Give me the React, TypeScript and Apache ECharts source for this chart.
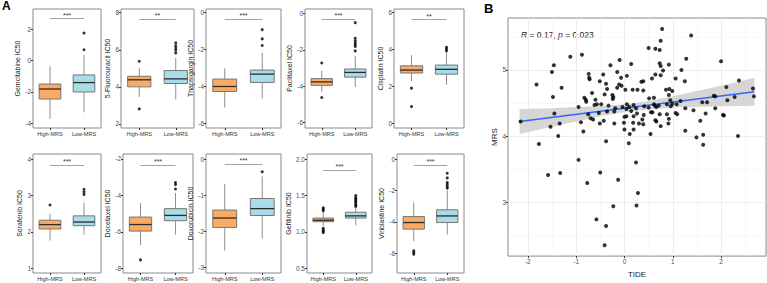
import React, { useEffect, useRef } from 'react';
import * as echarts from 'echarts';

// ---------------- DATA ----------------
const GROUPS = ['High-MRS', 'Low-MRS'];
const DRUGS = ['Gemcitabine', '5-Fluorouracil', 'Thapsigargin', 'Paclitaxel', 'Cisplatin',
  'Sorafenib', 'Docetaxel', 'Doxorubicin', 'Gefitinib', 'Vinblastine'];

// [lower whisker, Q1, median, Q3, upper whisker]
const HIGH_STATS = [
  [-3.72, -2.45, -1.81, -1.49, -0.36],
  [3.46, 4.0, 4.38, 4.57, 5.01],
  [-5.14, -4.27, -4.0, -3.6, -3.02],
  [-4.3, -3.95, -3.76, -3.58, -3.15],
  [2.3, 2.73, 2.89, 3.12, 3.7],
  [1.76, 2.08, 2.2, 2.32, 2.5],
  [-6.73, -5.96, -5.6, -5.19, -4.42],
  [-2.53, -1.89, -1.63, -1.41, -0.69],
  [1.08, 1.14, 1.16, 1.19, 1.27],
  [-5.23, -4.46, -4.04, -3.66, -2.76],
];
const LOW_STATS = [
  [-3.3, -2.0, -1.4, -0.91, 0.38],
  [3.32, 4.18, 4.43, 4.88, 5.56],
  [-4.65, -3.78, -3.33, -3.11, -2.18],
  [-4.04, -3.5, -3.24, -3.05, -2.34],
  [2.09, 2.67, 2.93, 3.16, 3.8],
  [1.92, 2.17, 2.27, 2.44, 2.8],
  [-6.16, -5.39, -5.1, -4.73, -3.87],
  [-2.2, -1.56, -1.37, -1.09, -0.48],
  [1.09, 1.19, 1.22, 1.27, 1.33],
  [-4.8, -4.04, -3.62, -3.23, -2.0],
];
const HIGH_OUTLIERS = [
  [],
  [5.38, 2.81],
  [],
  [-2.72, -4.62],
  [1.91, 0.91],
  [2.74],
  [-7.54],
  [],
  [1.33, 1.31, 1.29, 1.05, 1.03, 1.01, 0.99],
  [-5.83, -5.95, -6.05],
];
const LOW_OUTLIERS = [
  [1.77, 0.7],
  [6.37, 6.22, 6.1, 5.97, 5.83],
  [-0.92, -1.42, -1.78],
  [-0.51, -1.37, -1.5, -1.62, -1.72, -1.82, -2.06],
  [4.13, 4.03, 3.93],
  [3.17, 3.1, 3.03],
  [-3.29, -3.4, -3.65],
  [-0.35],
  [1.5, 1.47, 1.45, 1.43, 1.41, 1.39, 1.37, 1.35],
  [-0.9, -1.2, -1.5, -1.62, -1.75, -1.85],
];
const SIG_LABELS = ['***', '**', '***', '***', '**', '***', '***', '***', '***', '***'];
const SIG_Y = [2.68, 7.67, -0.36, -0.3, 5.63, 3.83, -2.33, -0.15, 1.85, -0.38];
const Y_MIN = [-4.3, 1.78, -6.25, -6.29, -0.25, 0.87, -8.26, -3.15, 0.435, -7.25];
const Y_MAX = [3.3, 8.2, 0.2, 0.24, 6.2, 4.14, -1.73, 0.14, 2.07, 0.32];
const Y_STEP = [2, 2, 2, 2, 2, 1, 2, 1, 0.5, 2];

// Panel B: TIDE vs MRS
const TIDE = [
  -2.15, -1.82, -1.46, -1.5, -1.3, -1.48, -1.12, -0.88, -1.45, -1.53, -1.34, -1.37, -0.95, -0.85, -0.9,
  -0.74, -0.72, -0.73, -0.51, -0.44, -0.15, -0.29, -0.38, -0.36, -0.15, -0.11, -0.67, -0.79, -0.83, -0.8,
  -0.6, -0.57, -0.23, -0.25, -0.41, -0.75, -0.7, -0.53, -0.33, -0.36, -0.19, -0.43, -0.51, -0.65, -0.62,
  -0.48, 0.78, 1.38, 0.75, 0.5, 0.64, 0.73, 1.28, 2.0, -0.1, 0.14, 0.73, 0.75, 0.92, 0.8,
  1.18, 0.05, -0.07, 0.64, 0.57, 0.75, 1.06, 1.25, 2.37, 0.35, 0.39, -0.06, 0.02, 0.17, 0.27,
  0.39, 0.86, 0.93, 0.99, 0.61, 0.51, 2.11, 2.66, 2.68, 1.85, 1.88, 2.28, 2.13, 1.88, 1.61,
  1.71, 1.43, 1.57, 1.68, 2.04, 2.06, 1.16, 1.08, 1.26, 0.96, 0.99, 0.92, 0.95, 0.88, 0.71,
  0.61, 0.63, 0.66, 1.06, 1.09, 0.73, 0.88, 0.92, 0.91, 0.75, 1.26, 0.54, 1.49, 1.63, 2.35,
  0.41, 0.5, 0.55, 0.58, 0.19, 0.1, 0.24, 0.05, -0.04, 0.04, 0.14, -0.24, -0.21, 0.0, 0.04,
  0.19, 0.26, 0.4, 0.37, 0.64, 0.66, 0.18, 0.3, 0.39, -0.01, -0.21, 0.19, 0.11, -1.77, -0.38,
  -0.95, -1.58, -1.33, -0.77, -0.5, -0.13, -0.23, -0.58, -0.38, -0.41, 0.0, 1.63, 0.09, 0.24, 0.28,
  0.25,
];
const MRS = [
  4.22, 4.78, 5.07, 4.97, 4.73, 4.59, 5.2, 5.23, 4.34, 4.14, 4.19, 4.0, 4.44, 4.07, 4.21,
  4.94, 4.86, 4.88, 4.83, 4.93, 4.97, 5.07, 4.79, 4.71, 4.73, 4.78, 4.65, 4.52, 4.58, 4.55,
  4.55, 4.48, 4.59, 4.62, 4.63, 4.33, 4.27, 4.35, 4.46, 4.37, 4.42, 4.23, 4.19, 4.25, 4.47,
  4.48, 5.62, 5.52, 5.44, 5.33, 5.32, 5.3, 5.17, 5.13, 5.15, 5.09, 5.1, 5.06, 5.08, 4.99,
  5.0, 4.91, 4.88, 4.93, 4.87, 4.92, 4.87, 4.83, 4.84, 4.82, 4.83, 4.76, 4.7, 4.7, 4.7,
  4.69, 4.7, 4.71, 4.68, 4.58, 4.57, 4.74, 4.72, 4.6, 4.61, 4.6, 4.59, 4.54, 4.42, 4.51,
  4.51, 4.39, 4.23, 4.34, 4.32, 4.31, 4.53, 4.48, 4.42, 4.45, 4.49, 4.62, 4.54, 4.48, 4.46,
  4.48, 4.46, 4.44, 4.35, 4.33, 4.33, 4.33, 4.26, 4.19, 4.15, 4.08, 4.03, 3.98, 4.02, 4.0,
  4.45, 4.43, 4.36, 4.36, 4.47, 4.44, 4.42, 4.48, 4.44, 4.41, 4.38, 4.56, 4.37, 4.29, 4.3,
  4.3, 4.34, 4.32, 4.25, 4.24, 4.22, 4.2, 4.19, 4.18, 4.2, 4.19, 4.1, 4.03, 3.88, 3.92,
  3.64, 3.41, 3.44, 3.29, 3.45, 3.34, 2.94, 2.74, 2.64, 2.35, 4.1, 3.87, 3.89, 3.6, 3.14,
  2.95,
];
const FIT_X = [-2.17, 2.69];
const FIT_Y = [4.22, 4.67];
const BAND_X = [-2.17, -1.5, -1.0, -0.5, 0.0, 0.5, 1.0, 1.5, 2.0, 2.69];
const BAND_LO = [4.03, 4.14, 4.22, 4.3, 4.36, 4.4, 4.43, 4.44, 4.45, 4.46];
const BAND_HI = [4.41, 4.42, 4.44, 4.45, 4.48, 4.53, 4.6, 4.68, 4.76, 4.88];
const MINOR_X = [-1.5, -0.5, 0.5, 1.5, 2.5];
const MINOR_Y = [2.5, 3.5, 4.5, 5.5];
const B_X_RANGE = [-2.41, 2.93];
const B_Y_RANGE = [2.185, 5.785];

// ---------------- LAYOUT / STYLE ----------------
const PANELS = [
  { left: 33, top: 9, width: 68, nameGap: 9 },
  { left: 121, top: 9, width: 73, nameGap: 7 },
  { left: 206, top: 9, width: 75, nameGap: 5 },
  { left: 305, top: 9, width: 67, nameGap: 12 },
  { left: 394, top: 9, width: 70, nameGap: 8 },
  { left: 33, top: 154, width: 68, nameGap: 8 },
  { left: 123, top: 154, width: 70, nameGap: 11 },
  { left: 206, top: 154, width: 75, nameGap: 5 },
  { left: 307, top: 154, width: 65, nameGap: 12 },
  { left: 397, top: 154, width: 67, nameGap: 11 },
];
const PANEL_H = 119;
const FILLS = ['#FBAA63', '#A8DCE8'];
const BOX_LINE = '#767676';
const WHISKER = '#8e8e8e';
const MEDIAN = '#2b2b2b';
const BORDER = '#8a8a8a';
const FONT = 'Liberation Sans, Arial, sans-serif';

function boxRender(params: any, api: any) {
  const cat = api.value(0);
  const lo = api.coord([cat, api.value(1)]);
  const q1 = api.coord([cat, api.value(2)]);
  const md = api.coord([cat, api.value(3)]);
  const q3 = api.coord([cat, api.value(4)]);
  const hi = api.coord([cat, api.value(5)]);
  const band = api.size([1, 0])[0];
  const w = (band * 0.7) / 1.1;
  const x = lo[0];
  return {
    type: 'group',
    children: [
      { type: 'line', shape: { x1: x, y1: hi[1], x2: x, y2: q3[1] }, style: { stroke: WHISKER, lineWidth: 1 } },
      { type: 'line', shape: { x1: x, y1: q1[1], x2: x, y2: lo[1] }, style: { stroke: WHISKER, lineWidth: 1 } },
      { type: 'rect', shape: { x: x - w / 2, y: q3[1], width: w, height: q1[1] - q3[1] }, style: { fill: FILLS[cat], stroke: BOX_LINE, lineWidth: 1 } },
      { type: 'line', shape: { x1: x - w / 2, y1: md[1], x2: x + w / 2, y2: md[1] }, style: { stroke: MEDIAN, lineWidth: 1.3 } },
    ],
  };
}

function buildOption() {
  const grid: any[] = [];
  const xAxis: any[] = [];
  const yAxis: any[] = [];
  const series: any[] = [];

  PANELS.forEach((p, i) => {
    grid.push({ left: p.left, top: p.top, width: p.width, height: PANEL_H, show: true, borderColor: BORDER, borderWidth: 1, backgroundColor: 'transparent' });
    xAxis.push({
      type: 'category', gridIndex: i, data: GROUPS, boundaryGap: true, position: 'bottom',
      axisLine: { show: false, onZero: false },
      axisTick: { show: true, alignWithLabel: true, length: 2, lineStyle: { color: '#333' } },
      axisLabel: { fontSize: 5.5, color: '#333', margin: 3, interval: 0, fontFamily: FONT },
      splitLine: { show: false },
    });
    const step = Y_STEP[i];
    yAxis.push({
      type: 'value', gridIndex: i, min: Y_MIN[i], max: Y_MAX[i], minInterval: step, maxInterval: step,
      position: 'left',
      name: DRUGS[i] + ' IC50', nameLocation: 'middle', nameGap: p.nameGap,
      nameTextStyle: { fontSize: 7, color: '#1a1a1a', fontFamily: FONT },
      axisLine: { show: false, onZero: false },
      axisTick: { show: true, length: 2, lineStyle: { color: '#333' } },
      axisLabel: {
        fontSize: 6.5, color: '#4d4d4d', margin: 2, showMinLabel: false, showMaxLabel: false, fontFamily: FONT,
        formatter: (v: number) => (step < 1 ? v.toFixed(1) : String(Math.round(v))),
      },
      splitLine: { show: false },
    });
    series.push({
      type: 'custom', xAxisIndex: i, yAxisIndex: i, renderItem: boxRender, silent: true,
      encode: { x: 0, y: [1, 2, 3, 4, 5] },
      data: [[0, ...HIGH_STATS[i]], [1, ...LOW_STATS[i]]],
      z: 2,
    });
    series.push({
      type: 'scatter', xAxisIndex: i, yAxisIndex: i, silent: true, symbolSize: 3,
      itemStyle: { color: '#000' }, z: 3,
      data: [...HIGH_OUTLIERS[i].map((v) => [0, v]), ...LOW_OUTLIERS[i].map((v) => [1, v])],
      markLine: {
        silent: true, symbol: ['none', 'none'], animation: false,
        lineStyle: { color: '#8a8a8a', width: 0.8, type: 'solid' },
        label: { show: true, position: 'insideMiddleTop', formatter: SIG_LABELS[i], fontSize: 7, color: '#333', distance: 0, fontFamily: FONT },
        emphasis: { disabled: true },
        data: [[{ coord: [0, SIG_Y[i]] }, { coord: [1, SIG_Y[i]] }]],
      },
    });
  });

  // Panel B
  const b = PANELS.length;
  grid.push({ left: 508, top: 18, width: 258, height: 243, show: true, borderColor: BORDER, borderWidth: 1, backgroundColor: 'transparent' });
  xAxis.push({
    type: 'value', gridIndex: b, min: B_X_RANGE[0], max: B_X_RANGE[1], minInterval: 1, maxInterval: 1,
    position: 'bottom',
    name: 'TIDE', nameLocation: 'middle', nameGap: 12,
    nameTextStyle: { fontSize: 8, color: '#1a1a1a', fontFamily: FONT },
    axisLine: { show: false, onZero: false },
    axisTick: { show: true, length: 2, lineStyle: { color: '#333' } },
    axisLabel: { fontSize: 6.5, color: '#4d4d4d', margin: 2, showMinLabel: false, showMaxLabel: false, fontFamily: FONT },
    splitLine: { show: true, showMinLine: false, showMaxLine: false, lineStyle: { color: '#ebebeb', width: 0.9 } },
  });
  yAxis.push({
    type: 'value', gridIndex: b, min: B_Y_RANGE[0], max: B_Y_RANGE[1], minInterval: 1, maxInterval: 1,
    position: 'left',
    name: 'MRS', nameLocation: 'middle', nameGap: 10,
    nameTextStyle: { fontSize: 8, color: '#1a1a1a', fontFamily: FONT },
    axisLine: { show: false, onZero: false },
    axisTick: { show: true, length: 2, lineStyle: { color: '#333' } },
    axisLabel: { fontSize: 6.5, color: '#4d4d4d', margin: 2, showMinLabel: false, showMaxLabel: false, fontFamily: FONT },
    splitLine: { show: true, showMinLine: false, showMaxLine: false, lineStyle: { color: '#ebebeb', width: 0.9 } },
  });
  series.push({
    type: 'custom', xAxisIndex: b, yAxisIndex: b, silent: true, z: 2,
    data: [[0, 4.4]],
    renderItem: (params: any, api: any) => {
      const pts: number[][] = [];
      BAND_X.forEach((x, k) => pts.push(api.coord([x, BAND_HI[k]])));
      for (let k = BAND_X.length - 1; k >= 0; k--) pts.push(api.coord([BAND_X[k], BAND_LO[k]]));
      return { type: 'polygon', shape: { points: pts }, style: { fill: '#d6d6d6' } };
    },
    markLine: {
      silent: true, symbol: ['none', 'none'], animation: false, z: 1,
      lineStyle: { color: '#f3f3f3', width: 0.6, type: 'solid' },
      label: { show: false },
      emphasis: { disabled: true },
      data: [...MINOR_X.map((v) => ({ xAxis: v })), ...MINOR_Y.map((v) => ({ yAxis: v }))],
    },
  });
  series.push({
    type: 'line', xAxisIndex: b, yAxisIndex: b, silent: true, z: 3, showSymbol: false,
    lineStyle: { color: '#3366FF', width: 1.6 },
    data: FIT_X.map((x, k) => [x, FIT_Y[k]]),
  });
  series.push({
    type: 'scatter', xAxisIndex: b, yAxisIndex: b, silent: true, z: 4, symbolSize: 4,
    itemStyle: { color: '#000' },
    data: TIDE.map((x, k) => [x, MRS[k]]),
  });

  return {
    animation: false,
    textStyle: { fontFamily: FONT },
    grid, xAxis, yAxis, series,
    graphic: [
      { type: 'text', left: 2, top: 0, style: { text: 'A', font: 'bold 12px ' + FONT, fill: '#000' } },
      { type: 'text', left: 484, top: 2, style: { text: 'B', font: 'bold 13px ' + FONT, fill: '#000' } },
      {
        type: 'text', left: 521, top: 30,
        style: {
          text: '{i|R} = 0.17, {i|p} = 0.023', font: '8.5px ' + FONT, fill: '#1a1a1a',
          rich: { i: { fontStyle: 'italic', fontSize: 8.5, fontFamily: FONT, fill: '#1a1a1a' } },
        },
      },
    ],
  };
}

export default function App() {
  const ref = useRef<HTMLDivElement>(null);
  useEffect(() => {
    const chart = echarts.init(ref.current!, null, { renderer: 'svg' });
    chart.setOption(buildOption() as any);
    return () => chart.dispose();
  }, []);
  return <div ref={ref} style={{ position: 'absolute', left: 0, top: 0, width: 767, height: 283 }} />;
}
